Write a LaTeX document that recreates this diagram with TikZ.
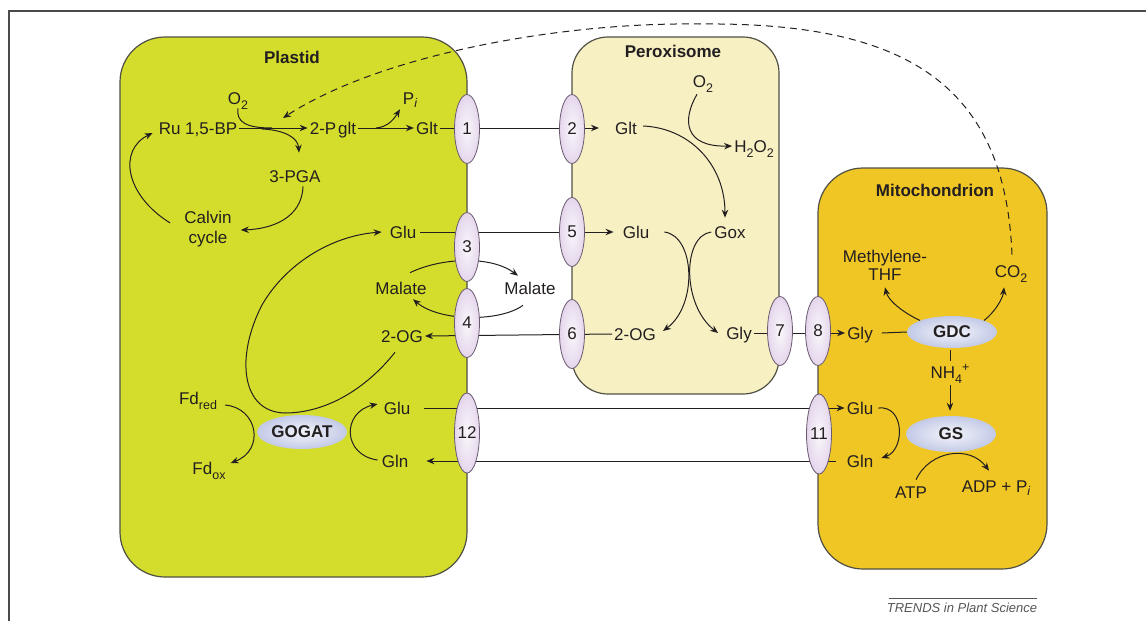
\documentclass[tikz,border=0pt]{standalone}
\usepackage{fontspec}
\setmainfont{Liberation Sans}
\usetikzlibrary{shapes.geometric,arrows.meta,calc}
\definecolor{txt}{RGB}{35,31,32}
\definecolor{plastc}{RGB}{212,221,44}
\definecolor{peroxc}{RGB}{247,240,195}
\definecolor{mitoc}{RGB}{240,198,36}
\definecolor{boxb}{RGB}{80,80,68}
\definecolor{transc}{RGB}{200,170,215}
\definecolor{transb}{RGB}{105,90,112}
\definecolor{enzc}{RGB}{145,158,210}
\definecolor{framec}{RGB}{75,75,75}
\definecolor{trendc}{RGB}{85,85,85}
\pgfdeclareradialshading{transsh}{\pgfpoint{0bp}{0bp}}{color(0bp)=(white!90!transc); color(20bp)=(white!60!transc); color(50bp)=(transc)}
\pgfdeclareradialshading{enzsh}{\pgfpoint{0bp}{0bp}}{color(0bp)=(white!90!enzc); color(50bp)=(enzc)}
\pgfdeclarelayer{back}
\pgfsetlayers{back,main}
\newcommand\mysub[1]{\raisebox{-5pt}{\fontsize{12.5}{12.5}\selectfont #1}}
\newcommand\mysubi[1]{\raisebox{-3.5pt}{\fontsize{12.5}{12.5}\selectfont\itshape #1}}
\newcommand\mysup[1]{\raisebox{7pt}{\fontsize{12.5}{12.5}\selectfont #1}}
\begin{document}
\begin{tikzpicture}[x=1pt,y=-1pt,
  lbl/.style={font=\fontsize{17}{20}\selectfont, text=txt, inner sep=2pt, text height=12.2pt, text depth=0pt},
  lbltwo/.style={text=txt, inner sep=2pt, align=center},
  ttl/.style={font=\fontsize{17}{20}\selectfont\bfseries, text=txt, inner sep=2pt},
  trans/.style={ellipse, draw=transb, line width=0.8pt, shading=transsh, minimum width=25, minimum height=69, inner sep=0pt, font=\fontsize{17}{20}\selectfont, text=txt},
  enz/.style={ellipse, shading=enzsh, minimum width=90, minimum height=33, inner sep=0pt, font=\fontsize{17}{20}\selectfont\bfseries, text=txt},
  arr/.style={draw=txt, line width=1pt, -{Stealth[length=8pt,width=6.5pt]}},
  ln/.style={draw=txt, line width=1pt},
  compbox/.style={draw=boxb, line width=1.2pt}
]
\useasboundingbox (0,0) rectangle (1146,621);

% frame
\draw[framec, line width=1.5pt] (9,621) -- (9,11) -- (1146,11);

% titles
\node[ttl] (tplastid) at (292,57) {Plastid};
\node[ttl] (tperox) at (673,51) {Peroxisome};
\node[ttl] (tmito) at (935,190) {Mitochondrion};

% plastid labels
\node[lbl] (o2a) at (238,98) {O\mysub{2}};
\node[lbl] (ru) at (198,128) {Ru 1,5-BP};
\node[lbl] (pglt) at (333,128) {2-P\kern2pt glt};
\node[lbl] (pi) at (410,98) {P\mysubi{i}};
\node[lbl] (glt) at (427,128) {Glt};
\node[lbl] (pga) at (295,176) {3-PGA};
\node[lbltwo, font=\fontsize{17}{20}\selectfont] (calvin) at (208,229) {Calvin\\cycle};
\node[lbl] (glu1) at (403,232) {Glu};
\node[lbl] (mal1) at (401,288) {Malate};
\node[lbl] (og1) at (402,336) {2-OG};
\node[lbl] (malm) at (530,288) {Malate};
\node[lbl] (fdred) at (198,398) {Fd\mysub{red}};
\node[lbl] (fdox) at (209,468) {Fd\mysub{ox}};
\node[enz, minimum height=34] (gogat) at (302,432) {\makebox[0pt]{GOGAT}};
\node[lbl] (glu3) at (397,408) {Glu};
\node[lbl] (gln3) at (395,461) {Gln};

% peroxisome labels
\node[lbl] (o2b) at (703,81) {O\mysub{2}};
\node[lbl] (glt2) at (626,128) {Glt};
\node[lbl] (h2o2) at (754,146) {H\mysub{2}O\mysub{2}};
\node[lbl] (glu2) at (636,232) {Glu};
\node[lbl] (gox) at (730,232) {Gox};
\node[lbl] (og2) at (635,334) {2-OG};
\node[lbl] (gly1) at (739,333) {Gly};

% mitochondrion labels
\node[lbltwo, font=\fontsize{17}{18}\selectfont] (meth) at (885,265) {Methylene-\\THF};
\node[lbl] (co2) at (1011,271) {CO\mysub{2}};
\node[lbl] (gly2) at (860,333) {Gly};
\node[enz, minimum height=32] (gdc) at (952,332) {\makebox[0pt]{GDC}};
\node[lbl] (nh4) at (950,372) {NH\mysub{4}\mysup{+}};
\node[enz, minimum height=36] (gs) at (951,434) {\makebox[0pt]{GS}};
\node[lbl] (glu4) at (860,408) {Glu};
\node[lbl] (gln4) at (860,461) {Gln};
\node[lbl] (atp) at (911,492) {ATP};
\node[lbl] (adp) at (996,486) {ADP + P\mysubi{i}};

% transporters
\node[trans] (t1) at (467,129) {\makebox[0pt]{1}};
\node[trans] (t2) at (572,129) {\makebox[0pt]{2}};
\node[trans] (t3) at (467,247) {\makebox[0pt]{3}};
\node[trans] (t4) at (467,323) {\makebox[0pt]{4}};
\node[trans] (t5) at (572,232) {\makebox[0pt]{5}};
\node[trans] (t6) at (572,334) {\makebox[0pt]{6}};
\node[trans] (t7) at (780,331) {\makebox[0pt]{7}};
\node[trans] (t8) at (818,331) {\makebox[0pt]{8}};
\node[trans, minimum height=80] (t12) at (467,433) {\makebox[0pt]{12}};
\node[trans, minimum height=80] (t11) at (819,434) {\makebox[0pt]{11}};

% credit
\node[font=\fontsize{13}{15}\selectfont\itshape, text=trendc, inner sep=0pt] (trends) at (962,608) {TRENDS in Plant Science};

\begin{pgfonlayer}{back}
% compartments
\draw[compbox, fill=plastc, rounded corners=45pt] (120,37) rectangle (467,577);
\draw[compbox, fill=peroxc, rounded corners=36pt] (572,37) rectangle (779,394);
\draw[compbox, fill=mitoc, rounded corners=45pt] (818,168) rectangle (1047,569);

\draw[trendc, line width=0.8pt] ($(trends.west)+(2,-10)$) -- ($(trends.east)+(0,-10)$);

% plastid connectors
\coordinate (j1) at (272,128);
\coordinate (j2) at (262,129);
\coordinate (j3) at (376,128);
\draw[arr] (ru.east) -- (pglt.west);
\draw[ln] ($(o2a.south)+(0,2)$) .. controls (236,122) and (246,128) .. (j1);
\draw[arr] (j2) .. controls (285,130) and (298,138) .. ($(pga.north)+(4,-15)$);
\draw[arr] (pglt.east) -- (glt.west);
\draw[arr] (j3) .. controls (388,127) and (394,119) .. ($(pi.south)+(-10,3)$);
\draw[arr] (glt.east) -- ($(glt2.west)+(-14,0)$);
\draw[arr] ($(pga.south)+(8,2)$) .. controls (302,218) and (272,229) .. ($(calvin.east)+(7,1)$);
\draw[arr] ($(calvin.west)+(-12,-6)$) .. controls (125,195) and (118,150) .. ($(ru.west)+(-4,5)$);
\draw[arr] ($(og1.south)+(-7,8)$) .. controls (365,390) and (325,413) .. (285,413)
   .. controls (240,412) and (236,355) .. (262,305)
   .. controls (285,265) and (330,236) .. ($(glu1.west)+(-6,0)$);
\draw[arr] ($(glu1.east)+(2,0)$) -- ($(glu2.west)+(-7,0)$);
\draw[arr] ($(mal1.north)+(9,-7)$) .. controls (440,258) and (490,255) .. ($(malm.north)+(-12,-4)$);
\draw[arr] ($(malm.south)+(-7,9)$) .. controls (500,322) and (440,322) .. ($(mal1.south)+(12,3)$);
\draw[arr] (og2.west) -- (og1.east);
\draw[arr] ($(glu3.east)+(12,0)$) -- (glu4.west);
\draw[arr] ($(gln4.west)+(-9,0)$) -- ($(gln3.east)+(16,0)$);
\draw[arr] ($(fdred.east)+(6,7)$) .. controls (258,408) and (265,450) .. ($(fdox.east)+(3,-5)$);
\draw[arr] ($(gln3.west)+(-2,-1)$) .. controls (342,455) and (342,412) .. ($(glu3.west)+(-4,-4)$);

% peroxisome connectors
\draw[arr] ($(glt2.east)+(4,-2)$) .. controls (690,128) and (725,165) .. ($(gox.north)+(-5,-6)$);
\draw[arr] ($(o2b.south)+(-6,5)$) .. controls (682,120) and (684,147) .. (h2o2.west);
\draw[arr] ($(glu2.east)+(13,0)$) .. controls (695,236) and (698,305) .. ($(og2.east)+(5,-3)$);
\draw[arr] ($(gox.west)+(-1,0)$) .. controls (682,236) and (682,305) .. ($(gly1.west)+(-6,0)$);
\draw[arr] (gly1.east) -- (gly2.west);

% mitochondrion connectors
\draw[ln] ($(gly2.east)+(7,0)$) -- (gdc.west);
\draw[arr] (gdc.north west) .. controls (902,312) and (888,300) .. ($(meth.south)+(0,5)$);
\draw[arr] (gdc.north east) .. controls (995,312) and (1003,298) .. ($(co2.south)+(-7,8)$);
\draw[ln] ($(gdc.south)+(-2,2)$) -- ($(nh4.north)+(0,-3)$);
\draw[arr] ($(nh4.south)+(0,5)$) -- ($(gs.north)+(-1,-5)$);
\draw[arr] ($(glu4.east)+(3,0)$) .. controls (905,405) and (905,450) .. ($(gln4.east)+(6,-3)$);
\draw[arr] ($(atp.north)+(5,-4)$) .. controls (930,450) and (970,445) .. ($(adp.north)+(-7,-7)$);

% photorespiratory CO2 return (dashed)
\coordinate (rubtip) at (283,118);
\draw[arr, dash pattern=on 7pt off 5pt] ($(co2.north)+(1,-8)$) .. controls (1005,80) and (900,22) .. (700,24)
   .. controls (560,22) and (380,55) .. (rubtip);
\end{pgfonlayer}
\end{tikzpicture}
\end{document}
